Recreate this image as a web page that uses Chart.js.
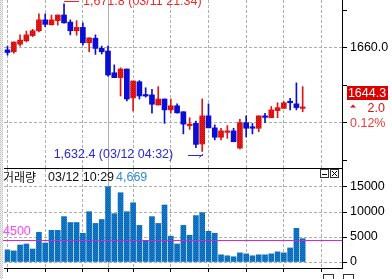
<!DOCTYPE html>
<html>
<head>
<meta charset="utf-8">
<script src="https://cdn.jsdelivr.net/npm/chart.js@4.4.1/dist/chart.umd.min.js"></script>
<style>
  html, body { margin: 0; padding: 0; background: #fff; overflow: hidden; }
  #wrap { position: relative; width: 392px; height: 279px; }
  canvas { position: absolute; left: 0; }
  #price { top: 0; }
  #vol { top: 169px; }
</style>
</head>
<body>
<div id="wrap">
  <canvas id="price" width="392" height="169"></canvas>
  <canvas id="vol" width="392" height="110"></canvas>
</div>
<script>
// 20 minute bars
const times = [
  "03/11 18:20","03/11 18:40","03/11 19:00","03/11 19:20","03/11 19:40","03/11 20:00",
  "03/11 20:20","03/11 20:40","03/11 21:00","03/11 21:20","03/11 21:40","03/11 22:00",
  "03/11 22:20","03/11 22:40","03/11 23:00","03/11 23:20","03/11 23:40","03/12 00:00",
  "03/12 00:20","03/12 00:40","03/12 01:00","03/12 01:20","03/12 01:40","03/12 02:00",
  "03/12 02:20","03/12 02:40","03/12 03:00","03/12 03:20","03/12 03:40","03/12 04:00",
  "03/12 04:20","03/12 04:40","03/12 05:00","03/12 05:20","03/12 05:40","03/12 06:00",
  "03/12 06:20","03/12 06:40","03/12 07:00","03/12 07:20","03/12 07:40","03/12 08:00",
  "03/12 08:20","03/12 08:40","03/12 09:00","03/12 09:20","03/12 09:40","03/12 10:00"
];
const opens = [
  1659.5, 1659.0, 1661.0, 1661.9, 1663.3, 1664.6, 1667.5, 1666.2, 1667.3, 1668.8,
  1666.9, 1664.6, 1665.5, 1661.4, 1662.6, 1659.9, 1659.2, 1653.4, 1652.1, 1654.4,
  1646.7, 1651.0, 1647.6, 1647.5, 1644.8, 1646.4, 1643.5, 1644.6, 1643.0, 1639.3,
  1639.9, 1634.4, 1641.9, 1638.7, 1636.2, 1637.5, 1637.9, 1633.3, 1640.1, 1639.0,
  1638.6, 1641.9, 1641.4, 1643.3, 1643.9, 1645.8, 1645.1, 1643.9
];
const highs = [
  1660.5, 1661.6, 1663.5, 1664.5, 1665.0, 1669.1, 1669.1, 1668.8, 1668.8, 1671.8,
  1667.5, 1667.3, 1666.7, 1662.7, 1663.5, 1660.5, 1660.5, 1655.5, 1654.7, 1654.4,
  1651.2, 1651.3, 1649.4, 1649.0, 1649.7, 1646.4, 1646.4, 1645.1, 1643.0, 1641.4,
  1640.5, 1646.4, 1645.1, 1639.5, 1638.6, 1639.3, 1638.6, 1641.0, 1641.9, 1639.9,
  1641.9, 1642.6, 1644.4, 1645.4, 1645.7, 1646.6, 1650.7, 1649.7
];
const lows = [
  1658.1, 1658.6, 1660.5, 1661.6, 1663.0, 1664.3, 1665.7, 1666.1, 1666.1, 1666.6,
  1663.5, 1663.4, 1660.8, 1659.0, 1658.3, 1658.4, 1652.5, 1652.1, 1647.2, 1645.9,
  1643.2, 1646.4, 1646.9, 1642.6, 1644.8, 1639.9, 1642.6, 1642.6, 1637.1, 1638.3,
  1633.4, 1632.4, 1638.7, 1635.5, 1635.5, 1635.9, 1635.0, 1633.1, 1636.3, 1637.1,
  1637.7, 1640.1, 1641.4, 1641.4, 1643.9, 1643.5, 1643.5, 1643.0
];
const closes = [
  1658.8, 1661.6, 1662.1, 1663.5, 1664.6, 1667.5, 1666.3, 1667.5, 1668.8, 1666.7,
  1664.6, 1665.5, 1661.4, 1662.7, 1659.9, 1659.0, 1652.8, 1652.1, 1654.4, 1646.4,
  1651.2, 1647.2, 1647.2, 1645.0, 1646.4, 1643.5, 1644.6, 1642.7, 1639.7, 1639.7,
  1634.3, 1641.9, 1638.7, 1636.2, 1637.9, 1637.9, 1635.0, 1640.1, 1638.6, 1638.6,
  1641.9, 1641.5, 1643.5, 1644.1, 1645.4, 1645.4, 1644.1, 1644.3
];
const volumes = [
  2420, 2220, 3400, 3600, 2600, 5950, 3800, 6340, 6340, 9080,
  7900, 7900, 5750, 10060, 7710, 8500, 15060, 9670, 13860, 10060,
  11850, 7320, 4180, 9080, 7710, 11400, 5160, 3600, 7320, 5360,
  9280, 9870, 6140, 5750, 1440, 1240, 1050, 1830, 1630, 1240,
  1440, 1440, 1630, 2030, 1830, 2810, 6730, 4669
];
const priceTicks = [1630, 1640, 1650, 1660, 1670];
const priceLabels = [1660];
const volTicks = [0, 5000, 10000, 15000];
const gridIdx = [3, 9, 15, 17, 23, 29, 35, 41, 47];
const dayIdx = 17;
const avgVol = 4500;
const hiIdx = 9, loIdx = 31;
const hiText = "1,671.8 (03/11 21:34)";
const loText = "1,632.4 (03/12 04:32)";
const lastPrice = "1644.3", lastChange = "2.0", lastPct = "0.12%";
const lastTime = "03/12 10:29", lastVol = "4,669";

const RED = "#e31414", BLUE = "#0c0cd2", GRID = "#a9b0a9";
const FONT = "12.5px 'Liberation Sans', Arial, sans-serif";

Chart.defaults.font.family = "'Liberation Sans', Arial, sans-serif";
Chart.defaults.font.size = 12.5;

function makePattern(cols) {
  const c = document.createElement("canvas");
  c.width = 2; c.height = 2;
  const g = c.getContext("2d");
  cols.forEach((col, k) => { g.fillStyle = col; g.fillRect(k % 2, Math.floor(k / 2), 1, 1); });
  return g.createPattern(c, "repeat");
}
const redPat = makePattern(["#b00808", "#f01a1a", "#f01a1a", "#d81010"]);
const volPat = makePattern(["#0a5ea8", "#1078c8", "#1482d2", "#0b6cb8"]);
const stripPat = makePattern(["#c4c4c4", "#f2f2f2", "#eeeeee", "#d6d6d6"]);

const isUp = i => closes[i] >= opens[i];

function xAxis(withTicks) {
  return {
    type: "linear", min: -0.56, max: 53.26, offset: false,
    afterBuildTicks: s => { s.ticks = gridIdx.map(v => ({ value: v })); },
    afterFit: s => { s.height = withTicks ? 11 : 0; s.paddingLeft = 0; s.paddingRight = 0; },
    ticks: { display: false },
    grid: {
      color: c => (c.tick && c.tick.value === dayIdx) ? "#b0b0b0" : GRID,
      drawTicks: withTicks, tickLength: 4, tickColor: "#000"
    },
    border: { display: true, color: "#000", dash: c => (c.tick && c.tick.value === dayIdx) ? [] : [3, 2] }
  };
}

function drawStrip(chart) {
  const ctx = chart.ctx;
  ctx.save();
  ctx.fillStyle = stripPat;
  ctx.fillRect(0, 0, 3, chart.height);
  ctx.restore();
}

// price panel
new Chart(document.getElementById("price"), {
  type: "bar",
  data: {
    datasets: [
      {
        label: "body",
        data: times.map((t, i) => ({ x: i, y: [opens[i], closes[i]] })),
        backgroundColor: times.map((t, i) => isUp(i) ? redPat : BLUE),
        barThickness: 5, grouped: false
      },
      {
        label: "wick",
        data: times.map((t, i) => ({ x: i, y: [lows[i], highs[i]] })),
        backgroundColor: times.map((t, i) => isUp(i) ? RED : BLUE),
        barThickness: 1, grouped: false
      }
    ]
  },
  options: {
    responsive: false, animation: false, devicePixelRatio: 1,
    layout: { padding: { left: 4, top: 0, right: 0, bottom: 1 } },
    plugins: { legend: { display: false }, tooltip: { enabled: false } },
    scales: {
      x: xAxis(false),
      y: {
        position: "right", min: 1628, max: 1672.8,
        afterBuildTicks: s => { s.ticks = priceTicks.map(v => ({ value: v })); },
        afterFit: s => { s.width = 50; s.paddingTop = 0; s.paddingBottom = 0; },
        ticks: { padding: 3, color: "#000", callback: v => priceLabels.includes(v) ? v.toFixed(1) : "" },
        grid: {
          color: c => (c.tick && c.tick.value % 20 === 0) ? GRID : "rgba(0,0,0,0)",
          tickColor: "#000", tickLength: 5
        },
        border: { color: "#000", dash: [3, 2] }
      }
    }
  },
  plugins: [{
    id: "priceMarks",
    afterDraw(chart) {
      const { ctx, scales: { x, y } } = chart;
      drawStrip(chart);
      ctx.save();
      ctx.font = FONT;
      ctx.lineWidth = 1;

      // high marker
      const hx = x.getPixelForValue(hiIdx), hy = y.getPixelForValue(highs[hiIdx]);
      ctx.strokeStyle = "#f02020";
      ctx.beginPath();
      ctx.moveTo(Math.round(hx), Math.round(hy - 3) + 0.5);
      ctx.lineTo(Math.round(hx) + 15, Math.round(hy - 3) + 0.5);
      ctx.stroke();
      ctx.fillStyle = "#f02828";
      ctx.textBaseline = "alphabetic";
      ctx.textAlign = "left";
      ctx.fillText(hiText, hx + 19, hy + 1.5);

      // low marker
      const lx = x.getPixelForValue(loIdx), ly = y.getPixelForValue(lows[loIdx]);
      ctx.strokeStyle = "#2a2ad8";
      ctx.beginPath();
      ctx.moveTo(Math.round(lx) - 14, Math.round(ly + 4) + 0.5);
      ctx.lineTo(Math.round(lx) + 1, Math.round(ly + 4) + 0.5);
      ctx.moveTo(lx - 3, ly + 6);
      ctx.lineTo(lx + 1, ly + 2.5);
      ctx.stroke();
      ctx.fillStyle = "#2a2ad8";
      ctx.textAlign = "right";
      ctx.fillText(loText, lx - 29, ly + 6);

      // current price tag
      ctx.fillStyle = "#dd0000";
      ctx.fillRect(347, 86, 41, 14);
      ctx.fillStyle = "#fff";
      ctx.textAlign = "center";
      ctx.textBaseline = "middle";
      ctx.fillText(lastPrice, 367, 93.5);

      ctx.fillStyle = "#e01010";
      ctx.beginPath();
      ctx.moveTo(350, 107.5); ctx.lineTo(356, 107.5); ctx.lineTo(353, 104.5);
      ctx.closePath(); ctx.fill();
      ctx.textAlign = "right";
      ctx.fillText(lastChange, 385, 108.5);
      ctx.fillStyle = "#f03a3a";
      ctx.textAlign = "left";
      ctx.fillText(lastPct, 350, 123.5);
      ctx.restore();
    }
  }]
});

// volume panel
new Chart(document.getElementById("vol"), {
  type: "bar",
  data: {
    datasets: [{
      label: "거래량",
      data: times.map((t, i) => ({ x: i, y: volumes[i] })),
      backgroundColor: volPat,
      barThickness: 5, grouped: false
    }]
  },
  options: {
    responsive: false, animation: false, devicePixelRatio: 1,
    layout: { padding: { left: 4, top: 0, right: 0, bottom: 0 } },
    plugins: { legend: { display: false }, tooltip: { enabled: false } },
    scales: {
      x: xAxis(true),
      y: {
        position: "right", min: -1200, max: 18600,
        afterBuildTicks: s => { s.ticks = volTicks.map(v => ({ value: v })); },
        afterFit: s => { s.width = 50; s.paddingTop = 0; s.paddingBottom = 0; },
        ticks: { padding: 3, color: "#000", callback: v => String(v) },
        grid: { color: GRID, tickColor: "#000", tickLength: 5 },
        border: { color: "#000", dash: [3, 2] }
      }
    }
  },
  plugins: [{
    id: "volMarks",
    afterDatasetsDraw(chart) {
      const { ctx, chartArea, scales: { y } } = chart;
      const ay = Math.round(y.getPixelForValue(avgVol)) + 0.5;
      ctx.save();
      ctx.strokeStyle = "#dd22dd";
      ctx.lineWidth = 1;
      ctx.beginPath();
      ctx.moveTo(3, ay); ctx.lineTo(chartArea.right, ay);
      ctx.stroke();
      ctx.restore();
    },
    afterDraw(chart) {
      const { ctx, scales: { y } } = chart;
      drawStrip(chart);
      ctx.save();
      // separator
      ctx.strokeStyle = "#000";
      ctx.lineWidth = 1;
      ctx.textBaseline = "middle";
      ctx.textAlign = "left";

      ctx.font = FONT;
      ctx.fillStyle = "#ff44ff";
      ctx.fillText(String(avgVol), 3, y.getPixelForValue(avgVol) - 8);

      ctx.font = "12px 'Noto Sans CJK KR', sans-serif";
      ctx.fillStyle = "#111";
      ctx.fillText("거래량", 3, 8.5);
      ctx.font = FONT;
      ctx.fillText(lastTime, 48, 8.5);
      ctx.fillStyle = "#2f8ad8";
      ctx.fillText(lastVol, 116, 8.5);

      // pane buttons
      ctx.fillStyle = "#fff";
      ctx.strokeStyle = "#333";
      [[320.5, 0.5, 8], [330.5, 0.5, 8], [323.5, 105.5, 10], [343.5, 105.5, 10]].forEach(b => {
        ctx.fillRect(b[0], b[1], b[2], b[2]);
        ctx.strokeRect(b[0], b[1], b[2], b[2]);
      });
      ctx.strokeStyle = "#000";
      ctx.beginPath();
      ctx.moveTo(322, 5.5); ctx.lineTo(327, 5.5);
      ctx.moveTo(332, 2); ctx.lineTo(337, 7);
      ctx.moveTo(337, 2); ctx.lineTo(332, 7);
      ctx.stroke();
      ctx.restore();
    }
  }]
});
</script>
</body>
</html>
